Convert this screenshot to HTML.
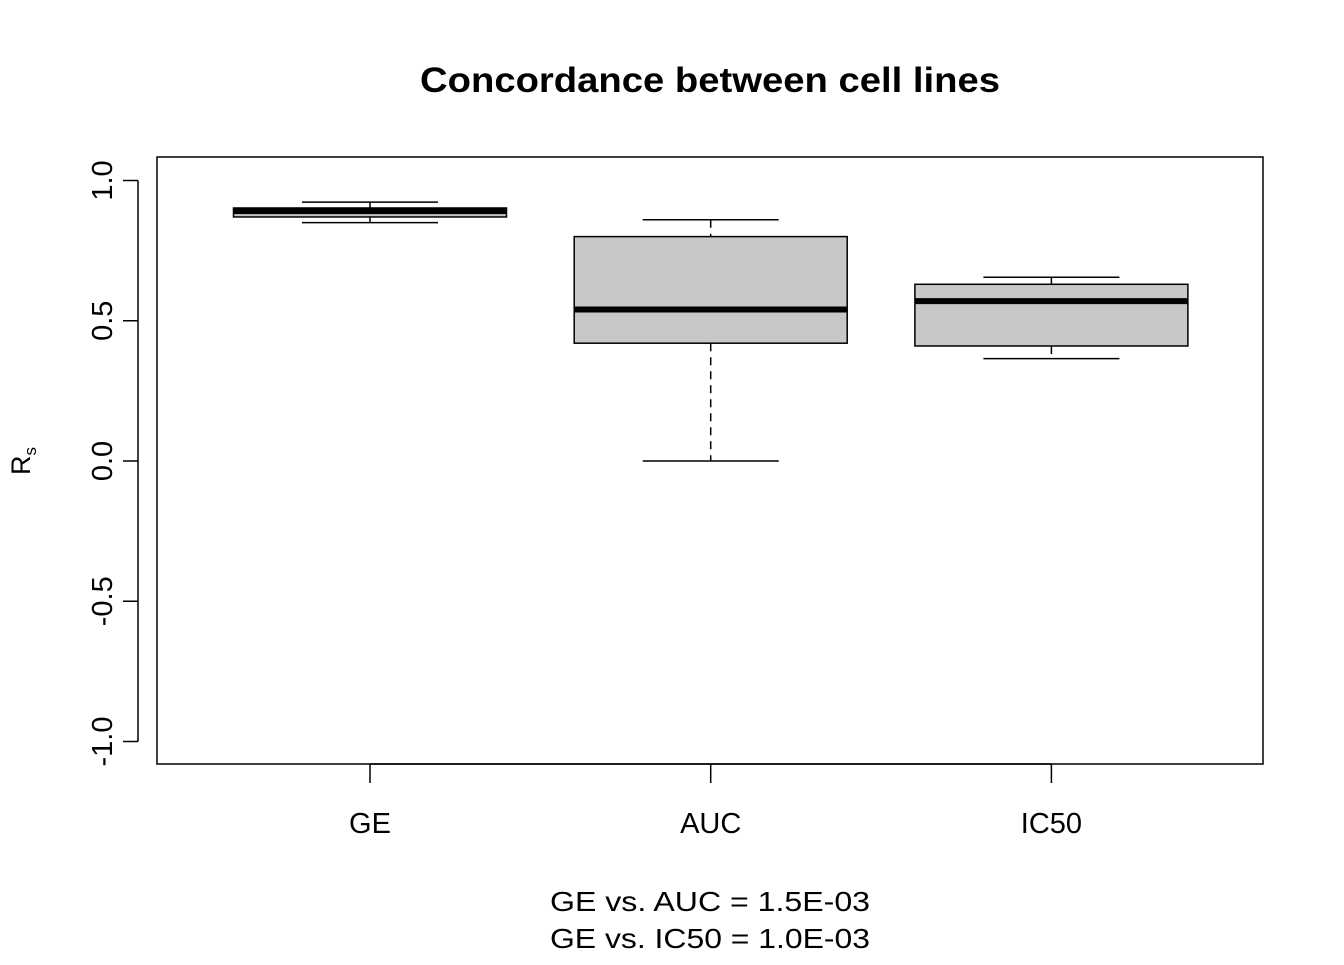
<!DOCTYPE html>
<html><head><meta charset="utf-8"><style>
body{margin:0;background:#fff;}
svg text{font-family:"Liberation Sans",Arial,sans-serif;}
</style></head><body>
<svg id="chart" width="1344" height="960" xmlns="http://www.w3.org/2000/svg">
<text x="710" y="92" text-anchor="middle" font-size="35" font-weight="bold" textLength="580" lengthAdjust="spacingAndGlyphs">Concordance between cell lines</text>
<rect x="157" y="157" width="1106" height="607" fill="none" stroke="#000" stroke-width="1.5"/>
<g id="yaxis"></g>
<g id="xaxis"></g>
<g id="boxes"></g>
<text transform="translate(30,461) rotate(-90)" text-anchor="middle" font-size="27">R<tspan font-size="17" dy="6">s</tspan></text>
<text x="710" y="911" text-anchor="middle" font-size="28" textLength="320" lengthAdjust="spacingAndGlyphs">GE vs. AUC = 1.5E-03</text>
<text x="710" y="948" text-anchor="middle" font-size="28" textLength="320" lengthAdjust="spacingAndGlyphs">GE vs. IC50 = 1.0E-03</text>
</svg>
<script>
const categories=["GE","AUC","IC50"];
const whiskerLow=[0.850,0.0,0.365];
const q1=[0.870,0.42,0.41];
const medians=[0.891,0.54,0.57];
const q3=[0.902,0.80,0.63];
const whiskerHigh=[0.923,0.86,0.655];
const yTicks=[-1.0,-0.5,0.0,0.5,1.0];
const yTickLabels=["-1.0","-0.5","0.0","0.5","1.0"];
const NS="http://www.w3.org/2000/svg";
const y=v=>461-v*280.5;
const x=i=>370+i*340.7;
const halfW=136.5;
function mk(tag,attrs,parent,txt){const e=document.createElementNS(NS,tag);for(const k in attrs)e.setAttribute(k,attrs[k]);if(txt!==undefined)e.textContent=txt;parent.appendChild(e);return e;}
const ya=document.getElementById('yaxis');
mk('line',{x1:138,x2:138,y1:y(1),y2:y(-1),stroke:'#000','stroke-width':1.5},ya);
yTicks.forEach((t,i)=>{
  const l=mk('line',{x1:123,x2:138,y1:y(t),y2:y(t),stroke:'#000','stroke-width':1.5},ya);
  
  
  const tx=mk('text',{transform:`translate(112,${y(t)}) rotate(-90)`,'text-anchor':'middle','font-size':29},ya,yTickLabels[i]);
  
  
});
const xa=document.getElementById('xaxis');
mk('line',{x1:x(0),x2:x(2),y1:764,y2:764,stroke:'#000','stroke-width':1.5},xa);
categories.forEach((c,i)=>{
  const l=mk('line',{x1:x(i),x2:x(i),y1:764,y2:783,stroke:'#000','stroke-width':1.5},xa);
  
  
  const tx=mk('text',{x:x(i),y:833,'text-anchor':'middle','font-size':29},xa,c);
  
  
});
const bx=document.getElementById('boxes');
categories.forEach((c,i)=>{
  const g=mk('g',{},bx);
  
  
  const cx=x(i);
  mk('line',{x1:cx,x2:cx,y1:y(whiskerHigh[i]),y2:y(q3[i]),stroke:'#000','stroke-width':1.5,'stroke-dasharray':'8,6'},g);
  mk('line',{x1:cx,x2:cx,y1:y(q1[i]),y2:y(whiskerLow[i]),stroke:'#000','stroke-width':1.5,'stroke-dasharray':'8,6'},g);
  mk('line',{x1:cx-68,x2:cx+68,y1:y(whiskerHigh[i]),y2:y(whiskerHigh[i]),stroke:'#000','stroke-width':1.5},g);
  mk('line',{x1:cx-68,x2:cx+68,y1:y(whiskerLow[i]),y2:y(whiskerLow[i]),stroke:'#000','stroke-width':1.5},g);
  mk('rect',{x:cx-halfW,y:y(q3[i]),width:2*halfW,height:y(q1[i])-y(q3[i]),fill:'#c8c8c8',stroke:'#000','stroke-width':1.5},g);
  mk('line',{x1:cx-halfW,x2:cx+halfW,y1:y(medians[i]),y2:y(medians[i]),stroke:'#000','stroke-width':6},g);
});
</script>
</body></html>
